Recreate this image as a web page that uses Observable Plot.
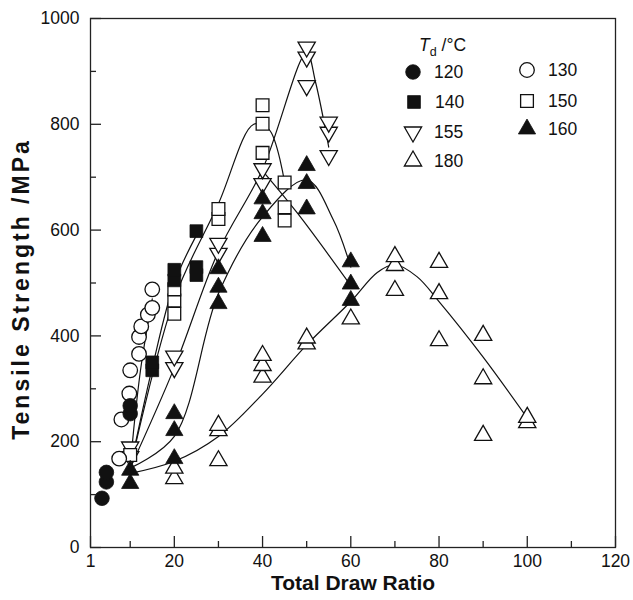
<!DOCTYPE html>
<html>
<head>
<meta charset="utf-8">
<script src="https://cdn.jsdelivr.net/npm/d3@7"></script>
<script src="https://cdn.jsdelivr.net/npm/@observablehq/plot@0.6"></script>
<style>
  body { margin: 0; background: #fff; }
  #chart svg { display: block; }
</style>
</head>
<body>
<div id="chart"></div>
<script>
// ---------- data ----------
const s120 = [[3.6,93],[4.6,124],[4.6,142],[10,253],[10,268]];
const s130 = [[7.5,168],[8,242],[9.8,291],[10,335],[12,366],[12,398],[12.5,418],[14,440],[15,453],[15,488]];
const s140 = [[15,335],[15,350],[20,505],[20,525],[25,515],[25,530],[25,598]];
const s150 = [[10,175],[20,442],[20,467],[20,488],[30,621],[30,640],[40,746],[40,801],[40,836],[45,618],[45,643],[45,690]];
const s155 = [[10,172],[10,190],[20,340],[20,362],[30,556],[30,575],[40,688],[40,716],[50,873],[50,927],[50,946],[55,741],[55,785],[55,804]];
const s160 = [[10,121],[10,146],[20,168],[20,221],[20,253],[30,461],[30,492],[30,527],[40,588],[40,631],[40,659],[50,640],[50,688],[50,722],[60,467],[60,498],[60,540]];
const s180 = [[20,130],[20,150],[30,164],[30,221],[30,231],[40,322],[40,344],[40,363],[50,385],[50,396],[60,432],[70,486],[70,533],[70,550],[80,391],[80,480],[80,539],[90,212],[90,319],[90,401],[100,236],[100,246]];

// fitted curves (knots)
const fit130 = [[10,150],[11,240],[12.5,345],[15,470]];
const fit140 = [[10,150],[15,340],[20,500],[25,590]];
const fit150 = [[10,150],[20,470],[30,650],[38,800],[41.5,790],[45,690]];
const fit150b = [[40,712],[48,631],[60,495]];
const fit155 = [[10,150],[20,340],[30,560],[40,715],[50,935],[52,880],[55,757]];
const fit160 = [[10,150],[20,210],[30,480],[40,625],[50,695],[56,620],[60,530]];
const fit180 = [[10,140],[20,163],[30,210],[40,290],[50,383],[60,465],[66,520],[70,535],[75,512],[80,465],[90,360],[100,245]];

const xMajor = [1,20,40,60,80,100,120];
const xMinor = [10,30,50,70,90,110];
const yMajor = [0,200,400,600,800,1000];
const yMinor = [100,300,500,700,900];

const legendRows = ["120","140","155","180","130","150","160"];

// ---------- symbols ----------
const downTriangle = {
  draw(context, size) {
    const y = -Math.sqrt(size / (3 * Math.sqrt(3)));
    context.moveTo(0, -y * 2);
    context.lineTo(-Math.sqrt(3) * y, y);
    context.lineTo(Math.sqrt(3) * y, y);
    context.closePath();
  }
};

const W = 633, H = 600;
const mL = 90, mR = 18, mT = 18, mB = 53;
const fw = W - mL - mR, fh = H - mT - mB;

const toObj = (arr) => arr.map(([x, y]) => ({x, y}));

const lineStyle = {x: "x", y: "y", stroke: "#111", strokeWidth: 1.2, curve: "catmull-rom"};
const ms = 1.3;

const chart = Plot.plot({
  width: W, height: H,
  marginLeft: mL, marginRight: mR, marginTop: mT, marginBottom: mB,
  style: {fontFamily: "'Liberation Sans', Arial, sans-serif", fontSize: "17px", color: "#111", background: "#fff"},
  x: {domain: [1, 120], axis: null},
  y: {domain: [0, 1000], axis: null},
  marks: [
    // fitted lines
    Plot.line(toObj(fit130), lineStyle),
    Plot.line(toObj(fit140), lineStyle),
    Plot.line(toObj(fit150), lineStyle),
    Plot.line(toObj(fit150b), lineStyle),
    Plot.line(toObj(fit155), lineStyle),
    Plot.line(toObj(fit160), lineStyle),
    Plot.line(toObj(fit180), lineStyle),
    // data
    Plot.dot(toObj(s180), {x: "x", y: "y", symbol: "triangle", r: 6.4, fill: "white", stroke: "#111", strokeWidth: ms}),
    Plot.dot(toObj(s155), {x: "x", y: "y", symbol: downTriangle, r: 6.4, fill: "white", stroke: "#111", strokeWidth: ms}),
    Plot.dot(toObj(s150), {x: "x", y: "y", symbol: "square", r: 7.2, fill: "white", stroke: "#111", strokeWidth: ms}),
    Plot.dot(toObj(s130), {x: "x", y: "y", symbol: "circle", r: 7.3, fill: "white", stroke: "#111", strokeWidth: ms}),
    Plot.dot(toObj(s160), {x: "x", y: "y", symbol: "triangle", r: 6.4, fill: "#111", stroke: "#111", strokeWidth: 0.8}),
    Plot.dot(toObj(s140), {x: "x", y: "y", symbol: "square", r: 7.2, fill: "#111", stroke: "#111", strokeWidth: 0.8}),
    Plot.dot(toObj(s120), {x: "x", y: "y", symbol: "circle", r: 7.3, fill: "#111", stroke: "#111", strokeWidth: 0.8}),
    // inward ticks
    Plot.tickX(xMajor, {x: d => d, insetTop: fh - 11, stroke: "#222", strokeWidth: 1.3}),
    Plot.tickX(xMinor, {x: d => d, insetTop: fh - 6, stroke: "#222", strokeWidth: 1.3}),
    Plot.tickY(yMajor, {y: d => d, insetRight: fw - 11, stroke: "#222", strokeWidth: 1.3}),
    Plot.tickY(yMinor, {y: d => d, insetRight: fw - 6, stroke: "#222", strokeWidth: 1.3}),
    Plot.frame({stroke: "#222", strokeWidth: 1.3}),
    // axes labels
    Plot.axisX(xMajor, {tickSize: 0, tickPadding: 7, fontSize: 17.5, tickFormat: d => String(d), label: null}),
    Plot.axisY(yMajor, {tickSize: 0, tickPadding: 11, fontSize: 17.5, tickFormat: d => String(d), label: null}),
    Plot.text(["Total Draw Ratio"], {frameAnchor: "bottom", dy: 42, fontSize: 21, fontWeight: "bold", textAnchor: "middle", text: d => d}),
    Plot.text(["Tensile Strength /MPa"], {frameAnchor: "left", dx: -69, dy: 6, rotate: -90, fontSize: 23, fontWeight: "bold", textAnchor: "middle", text: d => d})
  ]
});

document.getElementById("chart").appendChild(chart);

// spread the rotated axis title to the length seen in the reference
d3.select(chart).selectAll("text").filter(function() { return this.textContent === "Tensile Strength /MPa"; })
  .attr("letter-spacing", "3px");

// ---------- legend (inside the frame, top right) ----------
const svg = d3.select(chart);
const lg = svg.append("g")
  .attr("font-family", "'Liberation Sans', Arial, sans-serif")
  .attr("fill", "#111")
  .attr("text-anchor", "start");
const title = lg.append("text").attr("x", 419).attr("y", 51).attr("font-size", 17.5);
title.append("tspan").attr("font-style", "italic").text("T");
title.append("tspan").attr("font-size", 12.5).attr("dy", 5).text("d");
title.append("tspan").attr("dy", -5).text(" /°C");

const specs = {
  "120": {sym: d3.symbolCircle, r: 7.3, fill: "#111"},
  "130": {sym: d3.symbolCircle, r: 7.3, fill: "white"},
  "140": {sym: d3.symbolSquare, r: 7.2, fill: "#111"},
  "150": {sym: d3.symbolSquare, r: 7.2, fill: "white"},
  "155": {sym: downTriangle, r: 6.4, fill: "white"},
  "160": {sym: d3.symbolTriangle, r: 6.4, fill: "#111"},
  "180": {sym: d3.symbolTriangle, r: 6.4, fill: "white"}
};
const pos = {
  "120": [413, 72], "140": [414, 102], "155": [413, 132], "180": [413, 161],
  "130": [527, 70], "150": [527, 101], "160": [527, 129]
};
legendRows.forEach(k => {
  const s = specs[k], [px, py] = pos[k];
  lg.append("path")
    .attr("d", d3.symbol(s.sym, s.r * s.r * Math.PI)())
    .attr("transform", `translate(${px},${py})`)
    .attr("fill", s.fill).attr("stroke", "#111").attr("stroke-width", s.fill === "white" ? 1.3 : 0.8);
  lg.append("text").attr("x", px + 21).attr("y", py + 6).attr("font-size", 17.5).text(k);
});
</script>
</body>
</html>
